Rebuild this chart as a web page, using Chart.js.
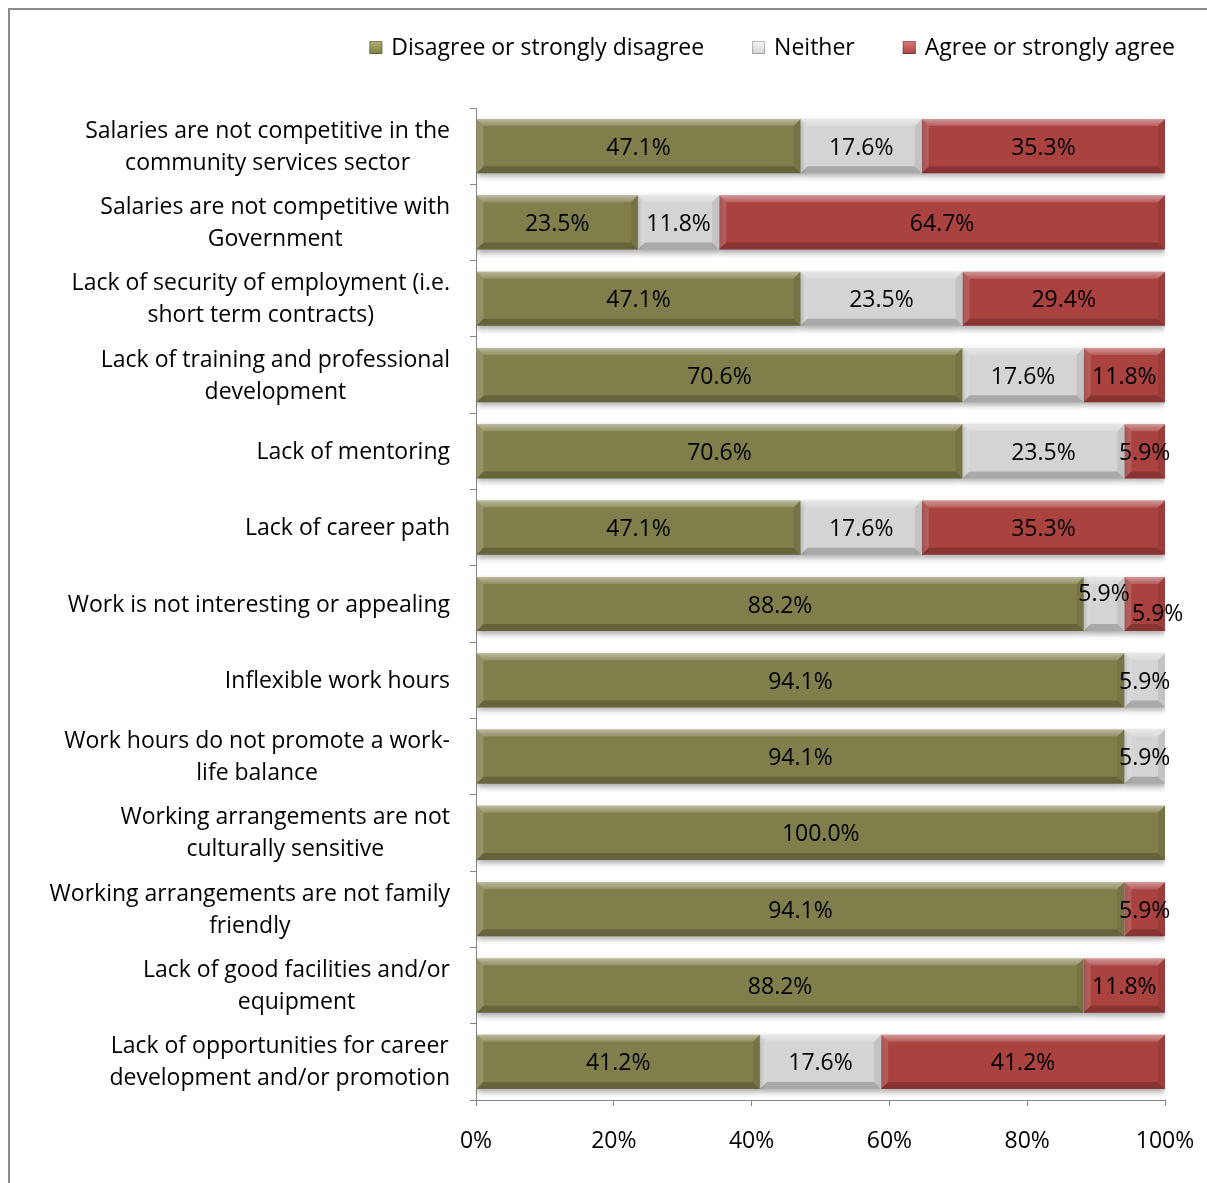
<!DOCTYPE html>
<html lang="en">
<head>
<meta charset="UTF-8">
<title>Barriers to working in the sector</title>
<script src="https://cdn.jsdelivr.net/npm/chart.js"></script>
<style>
    body { margin: 0; background: #fff; overflow: hidden; }
    #wrap { position: relative; width: 1207px; height: 1183px; }
</style>
</head>
<body>
<div id="wrap"><canvas id="chart"></canvas></div>
<script>
    // survey statements, one array of lines per bar
    const categories = [
        ['Salaries are not competitive in the', 'community services sector'],
        ['Salaries are not competitive with', 'Government'],
        ['Lack of security of employment (i.e.', 'short term contracts)'],
        ['Lack of training and professional', 'development'],
        ['Lack of mentoring'],
        ['Lack of career path'],
        ['Work is not interesting or appealing'],
        ['Inflexible work hours'],
        ['Work hours do not promote a work-', 'life balance'],
        ['Working arrangements are not', 'culturally sensitive'],
        ['Working arrangements are not family', 'friendly'],
        ['Lack of good facilities and/or', 'equipment'],
        ['Lack of opportunities for career', 'development and/or promotion']
    ];
    const seriesNames = ['Disagree or strongly disagree', 'Neither', 'Agree or strongly agree'];
    const disagree = [47.1, 23.5, 47.1, 70.6, 70.6, 47.1, 88.2, 94.1, 94.1, 100.0, 94.1, 88.2, 41.2];
    const neither  = [17.6, 11.8, 23.5, 17.6, 23.5, 17.6, 5.9, 5.9, 5.9, 0, 0, 0, 17.6];
    const agree    = [35.3, 64.7, 29.4, 11.8, 5.9, 35.3, 5.9, 0, 0, 0, 5.9, 11.8, 41.2];
    const xTicks = [0, 20, 40, 60, 80, 100];

    const FONT = '"Open Sans"';
    const FSIZE = 23;
    const colors = [
        { base: '#807e4a', light: '#b3b174' },
        { base: '#d4d4d4', light: '#f7f7f7' },
        { base: '#aa4240', light: '#dd7b79' }
    ];

    function poly(ctx, pts, fill) {
        ctx.beginPath();
        ctx.moveTo(pts[0][0], pts[0][1]);
        for (let i = 1; i < pts.length; i++) ctx.lineTo(pts[i][0], pts[i][1]);
        ctx.closePath();
        ctx.fillStyle = fill;
        ctx.fill();
    }

    // soft shadow under the bars, bevelled edges and value labels on top
    const barLook = {
        id: 'barLook',
        beforeDatasetsDraw(chart) {
            const ctx = chart.ctx;
            ctx.save();
            ctx.shadowColor = 'rgba(0,0,0,0.35)';
            ctx.shadowBlur = 6;
            ctx.shadowOffsetY = 3;
        },
        afterDatasetsDraw(chart) {
            const ctx = chart.ctx;
            ctx.restore();
            ctx.save();
            chart.data.datasets.forEach((ds, di) => {
                chart.getDatasetMeta(di).data.forEach((bar, i) => {
                    if (!ds.data[i]) return;
                    const l = Math.min(bar.base, bar.x), r = Math.max(bar.base, bar.x);
                    const t = bar.y - bar.height / 2, b = bar.y + bar.height / 2;
                    const s = 7;
                    const g = ctx.createLinearGradient(0, t, 0, t + s);
                    g.addColorStop(0, 'rgba(255,255,255,0.45)');
                    g.addColorStop(1, 'rgba(255,255,255,0.15)');
                    poly(ctx, [[l, t], [r, t], [r - s, t + s], [l + s, t + s]], g);
                    poly(ctx, [[l, t], [l + s, t + s], [l + s, b - s], [l, b]], 'rgba(255,255,255,0.15)');
                    poly(ctx, [[l, b], [l + s, b - s], [r - s, b - s], [r, b]], 'rgba(0,0,0,0.2)');
                    poly(ctx, [[r, t], [r, b], [r - s, b - s], [r - s, t + s]], 'rgba(0,0,0,0.08)');
                });
            });
            // value labels
            ctx.font = FSIZE + 'px ' + FONT;
            ctx.fillStyle = '#000';
            ctx.textAlign = 'center';
            ctx.textBaseline = 'middle';
            chart.data.datasets.forEach((ds, di) => {
                chart.getDatasetMeta(di).data.forEach((bar, i) => {
                    const v = ds.data[i];
                    if (!v) return;
                    let x = (bar.base + bar.x) / 2, y = bar.y + 2;
                    // two thin neighbouring segments: stagger their labels
                    const prev = di > 0 ? chart.data.datasets[di - 1].data[i] : 0;
                    const next = di < chart.data.datasets.length - 1 ? chart.data.datasets[di + 1].data[i] : 0;
                    if (v < 8 && prev > 0 && prev < 8) { x += 13; y += 8; }
                    else if (v < 8 && next > 0 && next < 8) { y -= 12; }
                    ctx.fillText(v.toFixed(1) + '%', x, y);
                });
            });
            ctx.restore();
        },
        afterDraw(chart) {
            const ctx = chart.ctx;
            const yScale = chart.scales.y;
            ctx.save();
            ctx.font = FSIZE + 'px ' + FONT;
            ctx.fillStyle = '#000';
            ctx.textAlign = 'center';
            ctx.textBaseline = 'middle';
            // category labels: block right-aligned to the axis, lines centred in the block
            categories.forEach((lines, i) => {
                const yc = yScale.getPixelForTick(i) + 1;
                const w = Math.max(...lines.map(s => ctx.measureText(s).width));
                const cx = yScale.right - 26 - w / 2;
                lines.forEach((s, k) => {
                    ctx.fillText(s, cx, yc + (k - (lines.length - 1) / 2) * 32);
                });
            });
            // legend, laid out from the right edge
            let cursor = 1175;
            const items = chart.data.datasets.map((ds, di) => ({ label: ds.label, c: colors[di] }));
            ctx.textAlign = 'left';
            for (let k = items.length - 1; k >= 0; k--) {
                const w = ctx.measureText(items[k].label).width;
                const tx = cursor - w;
                ctx.fillStyle = '#000';
                ctx.fillText(items[k].label, tx, 48);
                const mx = tx - 9 - 13, my = 41;
                const g = ctx.createLinearGradient(0, my, 0, my + 13);
                g.addColorStop(0, items[k].c.light);
                g.addColorStop(1, items[k].c.base);
                ctx.fillStyle = g;
                ctx.fillRect(mx, my, 13, 13);
                ctx.strokeStyle = 'rgba(0,0,0,0.25)';
                ctx.lineWidth = 1;
                ctx.strokeRect(mx + 0.5, my + 0.5, 12, 12);
                cursor = mx - 48;
            }
            ctx.restore();
        },
        beforeDraw(chart) {
            const ctx = chart.ctx;
            ctx.save();
            ctx.strokeStyle = '#8a8a8a';
            ctx.lineWidth = 2;
            ctx.beginPath();
            ctx.moveTo(9, chart.height);
            ctx.lineTo(9, 9);
            ctx.lineTo(chart.width, 9);
            ctx.stroke();
            ctx.restore();
        }
    };

    const series = [disagree, neither, agree];
    new Chart(document.getElementById('chart'), {
        type: 'bar',
        data: {
            labels: categories.map(l => l.join(' ')),
            datasets: series.map((d, i) => ({
                label: seriesNames[i],
                data: d,
                backgroundColor: colors[i].base,
                borderWidth: 0,
                barPercentage: 0.71,
                categoryPercentage: 1
            }))
        },
        options: {
            indexAxis: 'y',
            responsive: true,
            maintainAspectRatio: false,
            animation: false,
            layout: { padding: { top: 108, right: 42, bottom: 0, left: 0 } },
            plugins: {
                legend: { display: false },
                tooltip: { enabled: false }
            },
            scales: {
                x: {
                    stacked: true,
                    min: 0,
                    max: 100,
                    afterBuildTicks: s => { s.ticks = xTicks.map(v => ({ value: v })); },
                    afterFit: s => { s.height = 83; s.paddingRight = 0; },
                    ticks: {
                        callback: v => v + '%',
                        color: '#000',
                        padding: 22,
                        font: { family: 'Open Sans', size: FSIZE, lineHeight: 1.2 }
                    },
                    grid: { drawOnChartArea: false, drawTicks: true, tickLength: 6, color: '#868686' },
                    border: { color: '#868686' }
                },
                y: {
                    stacked: true,
                    afterFit: s => { s.width = 476; },
                    ticks: { display: false },
                    grid: { offset: true, drawOnChartArea: false, drawTicks: true, tickLength: 6, color: '#868686' },
                    border: { color: '#868686' }
                }
            }
        },
        plugins: [barLook]
    });
</script>
</body>
</html>
